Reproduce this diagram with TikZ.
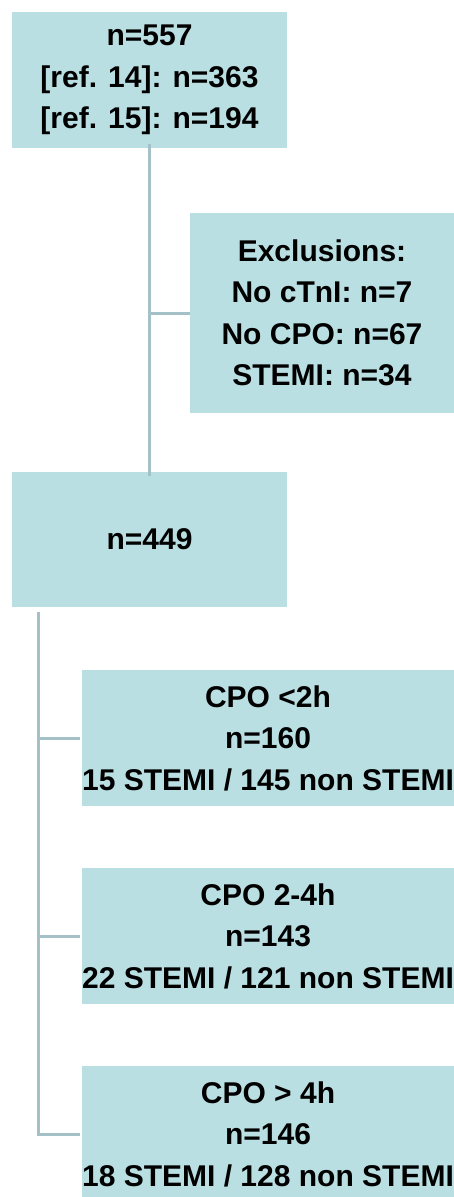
\documentclass[tikz,border=0pt]{standalone}
\usepackage{fontspec}
\setmainfont{Liberation Sans}
\definecolor{boxfill}{HTML}{B9DFE3}
\definecolor{linecol}{HTML}{A3C1C6}
\begin{document}
\begin{tikzpicture}[x=1pt,y=-1pt,
  flowbox/.style={fill=boxfill, draw=none, inner sep=0pt, align=center,
    font=\fontsize{30}{41.5}\selectfont\bfseries},
  conn/.style={draw=linecol, line width=3pt}]
\useasboundingbox (0,0) rectangle (453,1197);
\node[flowbox, minimum width=275pt, minimum height=136pt] (top) at (149.5,80)
  {n=557\\{}[ref. 14]: n=363\\{}[ref. 15]: n=194};
\node[flowbox, minimum width=264pt, minimum height=200pt] (excl) at (322,313)
  {Exclusions:\\No cTnI: n=7\\No CPO: n=67\\STEMI: n=34};
\node[flowbox, minimum width=275pt, minimum height=135pt] (mid) at (149.5,539.5)
  {n=449};
\node[flowbox, minimum width=372pt, minimum height=136pt] (c1) at (268,738)
  {CPO <2h\\n=160\\15 STEMI / 145 non STEMI};
\node[flowbox, minimum width=372pt, minimum height=136pt] (c2) at (268,936)
  {CPO 2-4h\\n=143\\22 STEMI / 121 non STEMI};
\node[flowbox, minimum width=372pt, minimum height=136pt] (c3) at (268,1134)
  {CPO > 4h\\n=146\\18 STEMI / 128 non STEMI};
\coordinate (j1) at (top.south |- excl.west);
\coordinate (trunk) at (38,612);
\coordinate (b1) at (trunk |- c1.west);
\coordinate (b2) at (trunk |- c2.west);
\coordinate (b3) at (trunk |- c3.west);
\draw[conn] ([yshift=4pt]top.south) -- ([yshift=-4pt]mid.north);
\draw[conn] (j1) -- (excl.west);
\draw[conn] (trunk) -- (b3) -- ([xshift=-2pt]c3.west);
\draw[conn] (b1) -- ([xshift=-2pt]c1.west);
\draw[conn] (b2) -- ([xshift=-2pt]c2.west);
\end{tikzpicture}
\end{document}
